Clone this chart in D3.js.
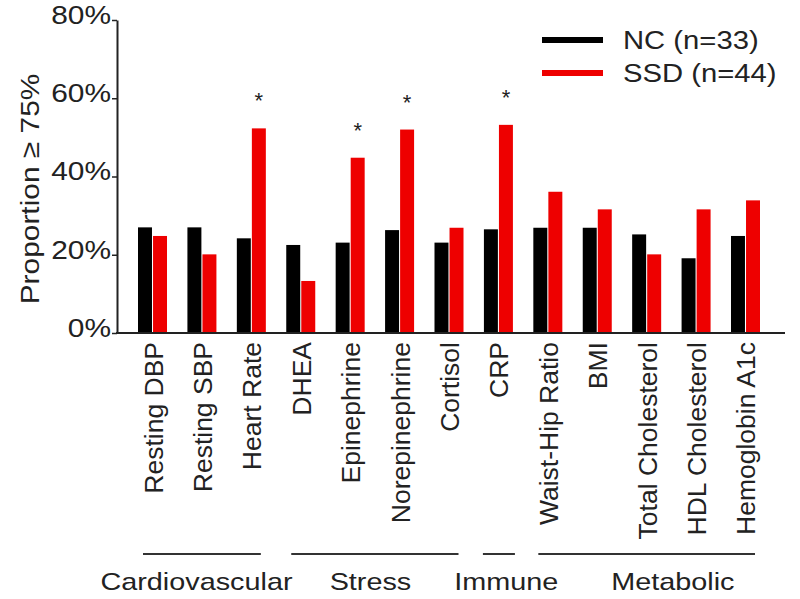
<!DOCTYPE html>
<html>
<head>
<meta charset="utf-8">
<script src="https://cdn.jsdelivr.net/npm/d3@7"></script>
<style>
  html, body { margin: 0; padding: 0; background: #fff; }
  svg { display: block; }
  text { font-family: "Liberation Sans", Arial, sans-serif; fill: #222; }
</style>
</head>
<body>
<div id="chart"></div>
<script>
// ---- data ----
const categories = ["Resting DBP", "Resting SBP", "Heart Rate", "DHEA", "Epinephrine",
  "Norepinephrine", "Cortisol", "CRP", "Waist-Hip Ratio", "BMI", "Total Cholesterol",
  "HDL Cholesterol", "Hemoglobin A1c"];
const seriesNames = ["NC (n=33)", "SSD (n=44)"];
const ncValues  = [27.0, 27.0, 24.2, 22.5, 23.1, 26.3, 23.1, 26.5, 26.9, 26.9, 25.2, 19.1, 24.8];
const ssdValues = [24.8, 20.1, 52.3, 13.3, 44.8, 52.0, 26.9, 53.2, 36.1, 31.6, 20.1, 31.6, 33.9];
const significant = ["Heart Rate", "Epinephrine", "Norepinephrine", "CRP"];
const yTicks = [0, 20, 40, 60, 80];
const groupNames = ["Cardiovascular", "Stress", "Immune", "Metabolic"];
const groupFirst = ["Resting DBP", "DHEA", "CRP", "Waist-Hip Ratio"];
const groupLast  = ["Heart Rate", "Cortisol", "CRP", "Hemoglobin A1c"];
const groupLabelAt = [0.89, 4.41, 7.16, 10.53]; // label centre, in category steps from the first category
const colors = ["#000000", "#ee0000"];

// ---- layout ----
const W = 800, H = 599;
const svg = d3.select("#chart").append("svg").attr("width", W).attr("height", H);

const y = d3.scaleLinear().domain([0, 80]).range([333, 20]);
const x = d3.scaleBand().domain(categories).range([138, 760]).paddingInner(0.413).paddingOuter(0);
const x1 = d3.scaleBand().domain(seriesNames).range([0, x.bandwidth()]).paddingInner(0.07);
const axisX = 117;
const stretch = 1.15;

// bars
const rows = categories.map((c, i) => ({ cat: c, vals: [ncValues[i], ssdValues[i]] }));
const g = svg.append("g");
g.selectAll("g.cat").data(rows).join("g")
  .attr("class", "cat")
  .attr("transform", d => `translate(${x(d.cat)},0)`)
  .selectAll("rect").data(d => d.vals.map((v, k) => ({ v, k })))
  .join("rect")
  .attr("x", d => x1(seriesNames[d.k]))
  .attr("width", x1.bandwidth())
  .attr("y", d => y(d.v))
  .attr("height", d => y(0) - y(d.v))
  .attr("fill", d => colors[d.k]);

// significance stars
svg.selectAll("text.star").data(significant).join("text")
  .attr("class", "star")
  .attr("x", d => x(d) + x1("SSD (n=44)") + x1.bandwidth() / 2)
  .attr("y", d => y(ssdValues[categories.indexOf(d)]) - 20)
  .attr("text-anchor", "middle")
  .style("font-size", "22px")
  .text("*");

// y axis
const yAxis = svg.append("g").attr("transform", `translate(${axisX},0)`)
  .call(d3.axisLeft(y).tickValues(yTicks).tickSize(5).tickSizeOuter(0).tickFormat(d => d + "%"));
yAxis.select(".domain").attr("stroke", "#222").attr("stroke-width", 2);
yAxis.selectAll(".tick line").attr("stroke", "#222").attr("stroke-width", 1.5);
yAxis.selectAll(".tick text")
  .attr("x", null).attr("dy", "0.32em")
  .attr("transform", `translate(-6,-5) scale(${stretch},1)`)
  .attr("text-anchor", "end")
  .attr("fill", "#222")
  .style("font-size", "26px")
  .style("font-family", "'Liberation Sans', Arial, sans-serif");

// x axis baseline
svg.append("line")
  .attr("x1", axisX - 1).attr("x2", 785)
  .attr("y1", y(0)).attr("y2", y(0))
  .attr("stroke", "#222").attr("stroke-width", 2);

// category labels
svg.selectAll("text.cat").data(categories).join("text")
  .attr("class", "cat")
  .attr("transform", d => `translate(${x(d) + x.bandwidth() / 2 + 10},342) rotate(-90)`)
  .attr("text-anchor", "end")
  .style("font-size", "26.5px")
  .text(d => d);

// y axis title
svg.append("text")
  .attr("transform", `translate(39,189) rotate(-90) scale(${stretch},1)`)
  .attr("text-anchor", "middle")
  .style("font-size", "26px")
  .text("Proportion \u2265 75%");

// group lines and labels
const step = x.step();
groupNames.forEach((name, i) => {
  const single = groupFirst[i] === groupLast[i];
  const x0 = x(groupFirst[i]) + (single ? -1 : 5);
  const xe = x(groupLast[i]) + x.bandwidth() + (single ? 2 : -5);
  svg.append("line")
    .attr("x1", x0).attr("x2", xe)
    .attr("y1", 554).attr("y2", 554)
    .attr("stroke", "#333").attr("stroke-width", 2);
  const cx = x(categories[0]) + x.bandwidth() / 2 + step * groupLabelAt[i];
  svg.append("text")
    .attr("transform", `translate(${cx},590) scale(1.2,1)`)
    .attr("text-anchor", "middle")
    .style("font-size", "24px")
    .text(name);
});

// legend
const legend = svg.append("g");
seriesNames.forEach((s, i) => {
  const ly = 40 + i * 33;
  legend.append("line")
    .attr("x1", 542).attr("x2", 603)
    .attr("y1", ly).attr("y2", ly)
    .attr("stroke", colors[i]).attr("stroke-width", 6);
  legend.append("text")
    .attr("transform", `translate(623,${ly + 9}) scale(${stretch + 0.02},1)`)
    .style("font-size", "25px")
    .text(s);
});
</script>
</body>
</html>
